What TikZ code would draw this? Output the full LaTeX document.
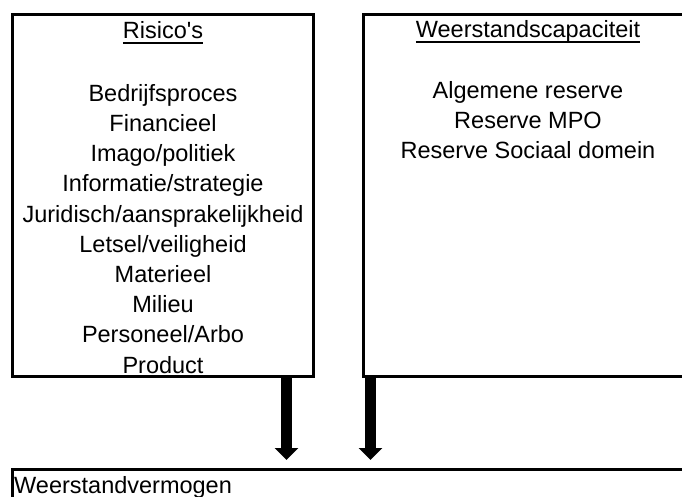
\documentclass[tikz,border=0pt]{standalone}
\usepackage{fontspec}
\setmainfont{Liberation Sans}[Ligatures=TeXOff]
\usetikzlibrary{arrows.meta}
\newcommand\myul[1]{\setbox0\hbox{#1}\rlap{\rule[-4.6pt]{\wd0}{1.6pt}}\box0}
\begin{document}
\begin{tikzpicture}[x=1pt,y=-1pt,
  box/.style={draw, line width=3pt, outer sep=0pt, inner sep=0pt, anchor=north west},
  txt/.style={inner sep=0pt, font=\fontsize{23.5}{30.2}\selectfont},
  bigarrow/.style={line width=10.7pt, -{Triangle[width=23pt,length=12pt]}, shorten >=9pt}]
\useasboundingbox (0,0) rectangle (682,497);
\clip (0,0) rectangle (682,497);
\node[box, minimum width=301.5pt, minimum height=361.5pt] (L) at (12,14.5) {};
\node[box, minimum width=330pt, minimum height=361.5pt] (R) at (363,14.5) {};
\node[box, minimum width=690pt, minimum height=60pt] (B) at (12,469) {};
\node[txt, anchor=base] (Lt) at (163,39) {\myul{Risico's}};
\node[txt, anchor=base, align=center] (Li) at (163,373) {Bedrijfsproces\\Financieel\\Imago/politiek\\Informatie/strategie\\Juridisch/aansprakelijkheid\\Letsel/veiligheid\\Materieel\\Milieu\\Personeel/Arbo\\Product};
\node[txt, anchor=base] (Rt) at (528,38) {\myul{Weerstandscapaciteit}};
\node[txt, anchor=base, align=center] (Ri) at (528,159) {Algemene reserve\\Reserve MPO\\Reserve Sociaal domein};
\node[txt, anchor=base west] (Bt) at (14,493) {Weerstandvermogen};
\coordinate (a1) at (286.5,0);
\coordinate (a2) at (370.5,0);
\draw[bigarrow] (L.south -| a1) -- (B.north -| a1);
\draw[bigarrow] (R.south -| a2) -- (B.north -| a2);
\end{tikzpicture}
\end{document}
